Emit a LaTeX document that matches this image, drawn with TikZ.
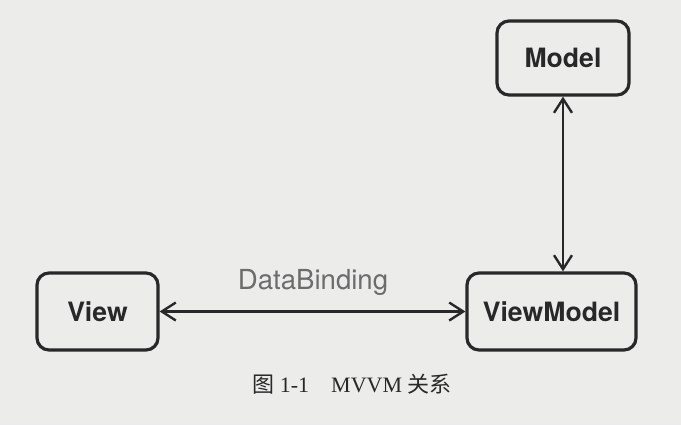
\documentclass[tikz,border=0pt]{standalone}
\usepackage{fontspec}
\setmainfont{Liberation Serif}
\setsansfont{TeX Gyre Heros}
\newfontfamily\cjk{Noto Sans CJK SC}
\usetikzlibrary{arrows.meta}
\definecolor{papier}{RGB}{236,236,235}
\definecolor{schrift}{RGB}{40,40,40}
\tikzset{
  kasten/.style={draw=schrift, line width=1.6pt, rounded corners=6pt,
    font=\sffamily\bfseries\fontsize{13.3}{15}\selectfont, text=schrift},
  pfeil/.style={draw=schrift, line width=1.2pt,
    {Straight Barb[length=7pt,width=9pt,line width=1.2pt]}-{Straight Barb[length=7pt,width=9pt,line width=1.2pt]}}
}
\begin{document}
\begin{tikzpicture}[x=0.5pt,y=-0.5pt]
  % Hintergrund
  \fill[papier] (0,0) rectangle (681,425);
  \useasboundingbox (0,0) rectangle (681,425);

  % Kaesten
  \node[kasten, minimum width=66pt, minimum height=37pt] (model) at (563,58) {Model};
  \node[kasten, minimum width=60.5pt, minimum height=38.5pt] (view) at (97.5,311.5) {View};
  \node[kasten, minimum width=84.5pt, minimum height=38.5pt] (vm) at (551.5,311.5) {ViewModel};

  % Verbindungen
  \draw[pfeil] (view.east) -- (vm.west);
  \draw[pfeil] (model.south) -- (model.south |- vm.north);

  % Beschriftung
  \node[text=gray!85!black, font=\sffamily\fontsize{13.8}{16}\selectfont] (bind) at (313,282) {DataBinding};

  % Bildunterschrift
  \node[text=schrift, font=\fontsize{11}{13}\selectfont] (titel) at (352,384) {{\cjk 图} 1-1\quad MVVM {\cjk 关系}};
\end{tikzpicture}
\end{document}
